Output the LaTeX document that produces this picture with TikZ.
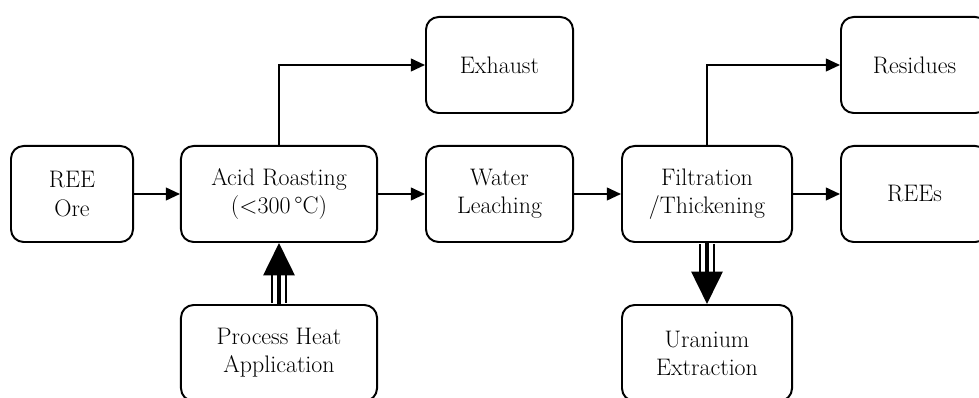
\documentclass[tikz,border=0pt]{standalone}
\usepackage{tikz}
\usetikzlibrary{arrows.meta,positioning,calc}
\tikzset{
  stage/.style={draw,line width=1.4pt,rounded corners=9pt,align=center,minimum height=2.4cm,inner sep=2pt,font=\fontsize{17}{20}\selectfont},
  flow/.style={line width=1.4pt,-{Triangle[length=10pt,width=9pt]}},
  heatshaft/.style={line width=1.6pt,double=white,double distance=8pt,shorten >=21pt,shorten <=0.7pt},
  heathead/.style={line width=2.2pt,-{Triangle[length=23pt,width=22pt]}}
}
\begin{document}
\begin{tikzpicture}[x=0.025cm,y=-0.025cm]
\useasboundingbox (0,0) rectangle (979,398);
\node[stage,minimum width=3.05cm] (ore) at (72,194) {REE\\Ore};
\node[stage,minimum width=4.9cm] (roast) at (279,194) {Acid Roasting\\(<300\,°C)};
\node[stage,minimum width=3.675cm] (exhaust) at (499.5,65) {Exhaust};
\node[stage,minimum width=3.675cm] (leach) at (499.5,194) {Water\\Leaching};
\node[stage,minimum width=4.25cm] (filt) at (707,194) {Filtration\\/Thickening};
\node[stage,minimum width=3.675cm] (resid) at (914.5,65) {Residues};
\node[stage,minimum width=3.675cm] (rees) at (914.5,194) {REEs};
\node[stage,minimum width=4.9cm] (heat) at (279,353) {Process Heat\\Application};
\node[stage,minimum width=4.25cm] (uran) at (707,353) {Uranium\\Extraction};
\draw[flow] (ore) -- (roast);
\draw[flow] (roast) -- (leach);
\draw[flow] (leach) -- (filt);
\draw[flow] (filt) -- (rees);
\draw[flow] (roast.north) |- (exhaust.west);
\draw[flow] (filt.north) |- (resid.west);
\draw[heatshaft] (heat.north) -- (roast.south);
\draw[heathead] (heat.north) -- (roast.south);
\draw[heatshaft] (filt.south) -- (uran.north);
\draw[heathead] (filt.south) -- (uran.north);
\end{tikzpicture}
\end{document}
